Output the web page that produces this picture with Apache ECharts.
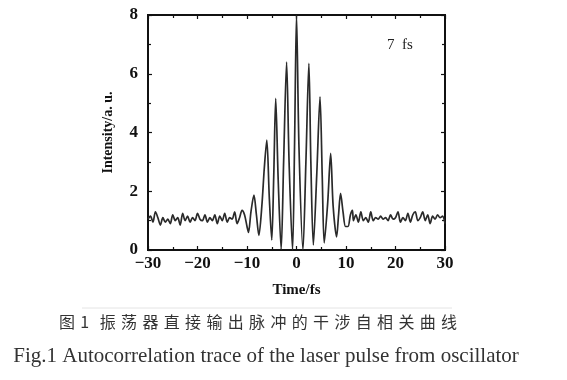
<!DOCTYPE html>
<html>
<head>
<meta charset="utf-8">
<script src="https://cdn.jsdelivr.net/npm/echarts@6/dist/echarts.min.js"></script>
<style>html,body{margin:0;padding:0;background:#fff}#c{width:567px;height:380px}</style>
</head>
<body>
<div id="c"></div>
<script>
// Time (fs)
var times = [
-30,-29.5,-29,-28.5,-28,-27.5,-27,-26.5,-26,-25.5,-25,-24.5,-24,-23.5,-23,-22.5,-22,-21.5,-21,-20.5,
-20,-19.5,-19,-18.5,-18,-17.5,-17,-16.5,-16,-15.5,-15,-14.5,-14,-13.5,-13,-12.5,-12,-11.5,-11,-10.5,
-10,-9.7,-9.2,-8.6,-8.1,-7.6,-7.0,-6.5,-6.0,-5.5,-5.0,-4.6,-4.2,-3.7,-3.1,-2.6,-2.0,-1.5,-0.8,-0.4,
0,0.5,1.3,1.9,2.5,2.9,3.4,4.1,4.75,5.2,5.6,6.3,6.9,7.4,8.1,8.5,8.9,9.4,9.9,10.4,
10.9,11.3,11.5,12,12.5,13,13.5,14,14.5,15,15.5,16,16.5,17,17.5,18,18.5,19,19.5,20,
20.5,21,21.5,22,22.5,23,23.5,24,24.5,25,25.5,26,26.5,27,27.5,28,28.5,29,29.5,30
];
// Intensity (a.u.)
var intensity = [
1.05,1.15,0.95,1.3,1.1,0.85,1.1,0.95,1.05,0.9,1.2,1.0,1.1,0.85,1.25,1.0,1.15,0.95,1.1,1.0,
1.25,1.05,1.0,1.2,0.95,1.1,1.0,1.2,0.9,1.15,1.0,1.25,0.95,1.1,1.05,1.3,0.9,1.1,1.35,1.2,
0.8,0.6,1.3,1.87,1.2,0.5,1.5,2.8,3.74,1.8,0.34,2.5,5.16,2.4,0.02,3.0,6.4,3.0,0.0,3.5,
8.0,3.5,0.0,3.0,6.35,3.0,0.17,2.6,5.21,2.5,0.24,1.6,3.29,1.5,0.45,1.2,1.93,1.3,0.8,0.8,
1.2,1.35,1.0,1.2,0.95,1.3,1.0,1.1,0.95,1.3,1.0,1.1,1.05,1.15,1.05,1.1,1.0,1.2,1.05,1.1,
1.3,0.95,1.1,1.0,1.25,0.95,1.2,1.3,1.0,1.1,1.3,1.0,1.2,0.9,1.15,1.05,1.2,1.1,1.15,0.9
];
var xTicks = [-30, -20, -10, 0, 10, 20, 30];
var yTicks = [0, 2, 4, 6, 8];
var xName = 'Time/fs';
var yName = 'Intensity/a. u.';
var annot = '7  fs';
var captionCN = '图\u20041\u2004\u2004振\u2004荡\u2004器\u2004直\u2004接\u2004输\u2004出\u2004脉\u2004冲\u2004的\u2004干\u2004涉\u2004自\u2004相\u2004关\u2004曲\u2004线';
var captionEN = 'Fig.1 Autocorrelation trace of the laser pulse from oscillator';

var pts = times.map(function (t, i) { return [t, intensity[i]]; });
var serif = "'Liberation Serif', 'DejaVu Serif', serif";
var chart = echarts.init(document.getElementById('c'), null, {renderer: 'canvas'});
var tickStyle = {show: true, inside: true, length: 4, lineStyle: {color: '#111', width: 1.2}};
var minorStyle = {show: true, splitNumber: 2, length: 3, lineStyle: {color: '#111', width: 1.2}};
var labelStyle = {fontFamily: serif, fontSize: 17, fontWeight: 'bold', color: '#111',
  formatter: function (v) { return String(v).replace('-', '\u2212'); }};
chart.setOption({
  animation: false,
  backgroundColor: '#fff',
  grid: {left: 148, right: 122, top: 15, bottom: 130, show: true, borderColor: '#111', borderWidth: 2, backgroundColor: 'transparent'},
  xAxis: [{
    type: 'value', min: xTicks[0], max: xTicks[xTicks.length - 1], interval: 10,
    name: xName, nameLocation: 'middle', nameGap: 33,
    nameTextStyle: {fontFamily: serif, fontSize: 15, fontWeight: 'bold', color: '#111'},
    axisLine: {show: true, onZero: false, lineStyle: {color: '#111', width: 2}},
    axisTick: tickStyle, minorTick: minorStyle,
    axisLabel: Object.assign({margin: 5}, labelStyle),
    splitLine: {show: false}
  }, {
    type: 'value', position: 'top', min: xTicks[0], max: xTicks[xTicks.length - 1], interval: 10,
    axisLine: {show: true, onZero: false, lineStyle: {color: '#111', width: 2}},
    axisTick: tickStyle, minorTick: minorStyle,
    axisLabel: {show: false}, splitLine: {show: false}
  }],
  yAxis: [{
    type: 'value', min: yTicks[0], max: yTicks[yTicks.length - 1], interval: 2,
    name: yName, nameLocation: 'middle', nameGap: 33,
    nameTextStyle: {fontFamily: serif, fontSize: 14, fontWeight: 'bold', color: '#111'},
    axisLine: {show: true, onZero: false, lineStyle: {color: '#111', width: 2}},
    axisTick: tickStyle, minorTick: minorStyle,
    axisLabel: Object.assign({margin: 10}, labelStyle),
    splitLine: {show: false}
  }, {
    type: 'value', position: 'right', min: yTicks[0], max: yTicks[yTicks.length - 1], interval: 2,
    axisLine: {show: true, onZero: false, lineStyle: {color: '#111', width: 2}},
    axisTick: tickStyle, minorTick: minorStyle,
    axisLabel: {show: false}, splitLine: {show: false}
  }],
  series: [{
    type: 'line', data: pts, xAxisIndex: 0, yAxisIndex: 0,
    showSymbol: false, smooth: 0.3, clip: true,
    lineStyle: {color: '#2a2a2a', width: 1.7}
  }, {
    type: 'line', data: [], xAxisIndex: 1, yAxisIndex: 1, showSymbol: false
  }],
  graphic: [
    {type: 'text', left: 387, top: 38, style: {text: annot, fontFamily: serif, fontSize: 15, fill: '#222'}},
    {type: 'line', shape: {x1: 82, y1: 308, x2: 452, y2: 308}, style: {stroke: '#e4e4e4', lineWidth: 1}},
    {type: 'text', x: 258, y: 322, style: {text: captionCN, align: 'center', verticalAlign: 'middle', fontFamily: "'Noto Sans CJK SC', sans-serif", fontSize: 16, fill: '#333'}},
    {type: 'text', x: 266, y: 356, style: {text: captionEN, align: 'center', verticalAlign: 'middle', fontFamily: serif, fontSize: 21, fill: '#333'}}
  ]
});
</script>
</body>
</html>
